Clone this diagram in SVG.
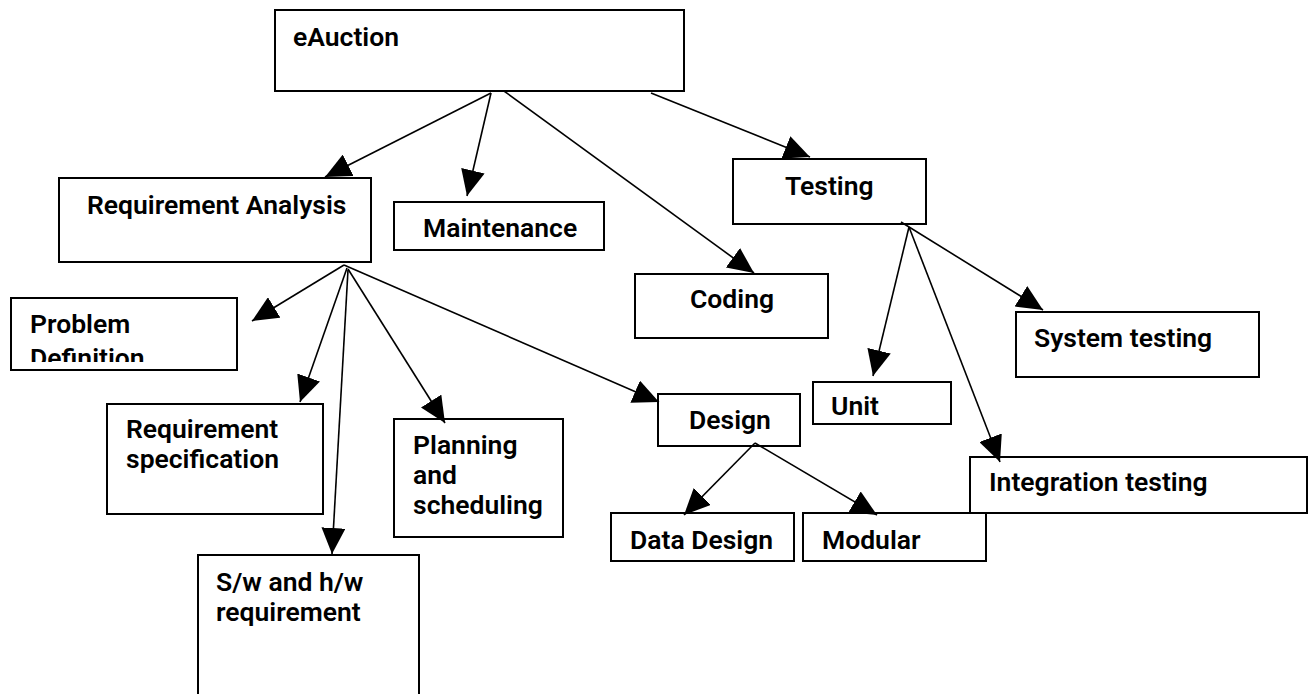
<svg xmlns="http://www.w3.org/2000/svg" width="1314" height="694" viewBox="0 0 1314 694">
<defs>
<style>
.box{fill:#fff;stroke:#000;stroke-width:2}
.t{font-family:Roboto,"Liberation Sans",sans-serif;font-size:26.5px;font-weight:600;fill:#000}
.c line{stroke:#000;stroke-width:1.6;fill:none;marker-end:url(#ah)}
</style>
<marker id="ah" viewBox="0 0 26 24" refX="26" refY="12" markerWidth="26" markerHeight="24" markerUnits="userSpaceOnUse" orient="auto">
<path d="M0,0 L26,12 L0,24 z" fill="#000"/>
</marker>
<clipPath id="pdclip"><rect x="11" y="297" width="226" height="65"/></clipPath>
</defs>
<rect width="1314" height="694" fill="#fff"/>

<g id="n-eauction"><rect class="box" x="275" y="10" width="409" height="81"/><text class="t" x="293" y="46">eAuction</text></g>
<g id="n-reqanalysis"><rect class="box" x="59" y="178" width="312" height="84"/><text class="t" x="87" y="214">Requirement Analysis</text></g>
<g id="n-maintenance"><rect class="box" x="394" y="202" width="210" height="48"/><text class="t" x="423" y="237">Maintenance</text></g>
<g id="n-testing"><rect class="box" x="733" y="159" width="193" height="65"/><text class="t" x="785" y="195">Testing</text></g>
<g id="n-coding"><rect class="box" x="635" y="274" width="193" height="64"/><text class="t" x="690" y="308">Coding</text></g>
<g id="n-problem"><rect class="box" x="11" y="298" width="226" height="72"/><g clip-path="url(#pdclip)"><text class="t" x="30" y="333">Problem</text><text class="t" x="30" y="367">Definition</text></g></g>
<g id="n-system"><rect class="box" x="1016" y="312" width="243" height="65"/><text class="t" x="1034" y="347">System testing</text></g>
<g id="n-reqspec"><rect class="box" x="107" y="404" width="216" height="110"/><text class="t" x="126" y="438">Requirement</text><text class="t" x="126" y="468">specification</text></g>
<g id="n-planning"><rect class="box" x="394" y="419" width="169" height="118"/><text class="t" x="413" y="454">Planning</text><text class="t" x="413" y="484">and</text><text class="t" x="413" y="514">scheduling</text></g>
<g id="n-design"><rect class="box" x="658" y="394" width="142" height="52"/><text class="t" x="689" y="429">Design</text></g>
<g id="n-unit"><rect class="box" x="813" y="382" width="138" height="42"/><text class="t" x="831" y="415">Unit</text></g>
<g id="n-integration"><rect class="box" x="970" y="457" width="337" height="56"/><text class="t" x="989" y="491">Integration testing</text></g>
<g id="n-datadesign"><rect class="box" x="611" y="513" width="183" height="48"/><text class="t" x="630" y="549">Data Design</text></g>
<g id="n-modular"><rect class="box" x="803" y="513" width="183" height="48"/><text class="t" x="822" y="549">Modular</text></g>
<g id="n-swhw"><rect class="box" x="198" y="555" width="221" height="150"/><text class="t" x="216" y="591">S/w and h/w</text><text class="t" x="216" y="621">requirement</text></g>

<g id="connectors" class="c">
<line x1="491" y1="93" x2="325" y2="177"/>
<line x1="491" y1="93" x2="467" y2="196"/>
<line x1="504" y1="91" x2="754" y2="273"/>
<line x1="651" y1="93" x2="810" y2="157"/>
<line x1="344" y1="265" x2="252" y2="321"/>
<line x1="347" y1="268" x2="300" y2="402"/>
<line x1="348" y1="270" x2="332" y2="554"/>
<line x1="348" y1="269" x2="445" y2="423"/>
<line x1="344" y1="265" x2="659" y2="402"/>
<line x1="909" y1="227" x2="873" y2="376"/>
<line x1="901" y1="222" x2="1043" y2="310"/>
<line x1="909" y1="227" x2="1000" y2="462"/>
<line x1="755" y1="443" x2="684" y2="515"/>
<line x1="755" y1="443" x2="877" y2="515"/>
</g>
</svg>
